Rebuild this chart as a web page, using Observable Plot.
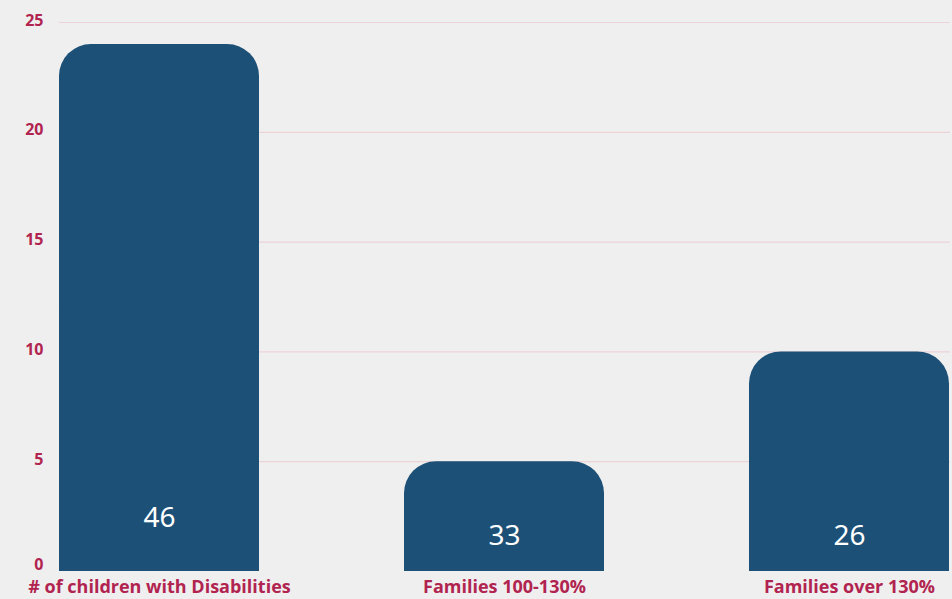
<!DOCTYPE html>
<html>
<head>
<meta charset="utf-8">
<script src="https://cdn.jsdelivr.net/npm/d3@7"></script>
<script src="https://cdn.jsdelivr.net/npm/@observablehq/plot@0.6"></script>
<style>
  html, body { margin: 0; padding: 0; background: #f0efef; }
  #chart { width: 952px; height: 599px; }
</style>
</head>
<body>
<div id="chart"></div>
<script>
const categories = ["# of children with Disabilities", "Families 100-130%", "Families over 130%"];
const barValues = [24, 5, 10];
const barLabels = ["46", "33", "26"];
const yTicks = [0, 5, 10, 15, 20, 25];

const data = categories.map((c, i) => ({category: c, value: barValues[i], label: barLabels[i], i}));

const barColor = "#1c5077";
const axisColor = "#b0244f";
const yAxisStyle = {tickSize: 0, tickPadding: 16, fill: axisColor, fontSize: 16, fontWeight: "bold", label: null, style: {letterSpacing: "1px"}};

const chart = Plot.plot({
  width: 952,
  height: 599,
  marginTop: 22,
  marginBottom: 28,
  marginLeft: 59,
  marginRight: 2,
  style: {background: "#f0efef", fontFamily: "'Open Sans', sans-serif"},
  x: {domain: categories, paddingInner: 0.42, paddingOuter: 0, label: null},
  y: {domain: [0, 25], ticks: yTicks, label: null},
  marks: [
    Plot.ruleY(yTicks.filter(t => t > 0), {stroke: "#ecd3d8", strokeWidth: 1.2}),
    Plot.barY(data, {x: "category", y: "value", fill: barColor, rx: 32}),
    Plot.barY(data, {x: "category", y1: 0, y2: d => d.value / 2, fill: barColor}),
    Plot.text(data.filter(d => d.i === 0), {x: "category", y: 0, text: "label", dy: -53, fill: "white", fontSize: 28, fontFamily: "'Noto Sans', sans-serif"}),
    Plot.text(data.filter(d => d.i !== 0), {x: "category", y: 0, text: "label", dy: -35, fill: "white", fontSize: 28, fontFamily: "'Noto Sans', sans-serif"}),
    Plot.axisY({...yAxisStyle, ticks: yTicks.filter(t => t > 0), dy: -2}),
    Plot.axisY({...yAxisStyle, ticks: yTicks.filter(t => t === 0), dy: -7}),
    Plot.axisX({tickSize: 0, tickPadding: 9, fill: axisColor, fontSize: 18, fontWeight: "bold", label: null, style: {letterSpacing: "1.5px"}})
  ]
});
document.getElementById("chart").appendChild(chart);
</script>
</body>
</html>
